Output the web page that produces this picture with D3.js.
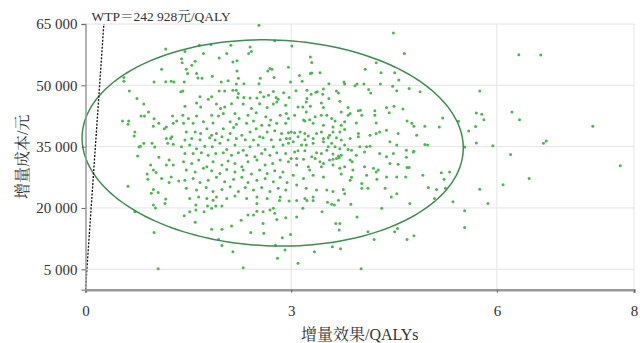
<!DOCTYPE html>
<html>
<head>
<meta charset="utf-8">
<script src="https://cdn.jsdelivr.net/npm/d3@7"></script>
<style>
  body { margin: 0; background: #fff; }
  text { font-family: "Liberation Serif", "Noto Serif CJK SC", "Noto Sans CJK SC", serif; fill: #333; }
</style>
</head>
<body>
<svg id="chart" width="640" height="343"></svg>
<script>
// axis ticks and labels
const xTicks = [0, 3, 6, 8];
const yTicks = [5000, 20000, 35000, 50000, 65000];
const xTitle = '增量效果/QALYs';
const yTitle = '增量成本/元';

// willingness to pay threshold (元/QALY)
const wtp = 242928;
const wtpLabel = 'WTP＝242 928元/QALY';

// 95% ellipse: centre [QALY, 千元], semi axes, tilt of the cost axis (千元)
const ellipseCentre = [2.73, 35.9];
const ellipseRadii = [2.78, 25.2];
const ellipseTilt = -1.2;

// simulated ICERs: [增量效果 QALYs, 增量成本 千元]
const points = [
  [1.17,58.9],[1.45,58.3],[1.66,59.8],[1.83,60.0],[2.12,59.8],[2.40,59.4],[2.38,57.8],[2.42,58.3],[2.53,64.7],[1.72,57.8],
  [2.06,57.8],[1.95,56.7],[1.40,56.5],[1.41,55.5],[1.60,55.9],[1.55,54.9],[2.15,55.7],[2.21,56.0],[1.47,53.9],[1.49,52.9],
  [1.11,53.9],[1.62,52.9],[1.64,51.8],[1.70,51.7],[1.85,52.2],[2.21,53.5],[2.66,53.5],[2.69,54.1],[2.55,51.7],[2.23,51.7],
  [0.56,51.9],[0.56,51.0],[1.00,50.8],[1.17,50.9],[1.25,51.0],[1.29,50.8],[1.44,50.8],[1.98,50.8],[2.08,51.1],[2.20,50.3],
  [2.31,50.4],[2.53,50.4],[0.64,48.6],[0.75,46.8],[1.39,48.4],[1.42,48.6],[1.67,47.2],[1.84,47.2],[1.79,46.6],[1.95,48.6],
  [2.03,48.6],[2.15,48.8],[2.20,48.8],[2.23,48.0],[2.22,47.0],[2.31,47.0],[2.40,46.9],[2.50,46.9],[2.60,47.2],[2.67,47.6],
  [2.55,48.3],[0.85,45.4],[0.92,43.5],[0.81,42.5],[0.86,42.5],[0.54,41.3],[0.63,41.3],[0.62,40.5],[0.72,38.6],[0.71,37.6],
  [0.80,35.1],[0.78,34.9],[0.85,35.8],[0.97,35.8],[1.01,34.9],[0.99,40.0],[1.07,40.7],[1.00,41.8],[1.15,39.4],[1.18,39.8],
  [1.28,40.7],[1.27,42.5],[1.33,41.3],[1.26,37.4],[1.24,37.0],[1.18,37.0],[1.20,35.8],[1.28,35.6],
  [2.72,53.9],[2.75,51.9],[2.76,60.9],[2.74,48.5],[2.78,47.0],[2.81,46.6],
  [4.49,62.8],[4.65,57.8],[4.08,53.9],[4.31,53.1],[4.51,53.1],[4.24,55.5],[4.57,51.3],[4.30,50.3],[4.48,49.8],[4.54,48.7],
  [4.72,49.2],[4.88,48.4],[4.13,49.0],[4.16,48.1],[4.06,50.3],[3.93,49.9],[3.96,50.3],[3.77,50.8],[3.78,50.3],[3.55,50.4],
  [3.42,53.1],[3.30,53.0],[3.28,52.9],[3.30,55.6],[3.28,56.9],[3.01,59.6],[2.96,54.4],[3.12,52.4],[3.16,51.0],[2.99,50.8],
  [4.63,44.2],[5.21,42.0],[4.69,41.3],[4.76,40.7],[4.79,40.0],[4.95,40.0],[5.16,39.8],[4.83,37.8],[4.95,35.5],[4.99,35.4],
  [4.68,34.1],[4.79,33.9],[3.69,48.1],[3.66,48.6],[3.55,46.8],[3.46,47.8],[3.38,48.4],[3.47,49.1],[3.36,48.3],[3.23,48.8],
  [3.29,47.8],[3.23,46.8],[3.07,48.7],[2.97,47.0],[2.89,48.2],
  [6.32,57.5],[6.64,57.4],[5.75,48.6],[6.22,43.5],[5.70,43.2],[5.78,42.9],[5.81,41.6],[6.33,41.6],[5.69,39.9],[5.59,38.8],
  [7.40,40.0],[5.44,41.2],[5.70,35.9],[5.94,35.2],[6.72,36.4],[6.68,35.8],[6.20,33.1],[5.53,34.9],[7.80,30.3],[6.47,27.2],
  [6.09,25.7],[5.75,24.6],[5.36,21.5],[5.87,21.1],[5.53,19.3],[5.53,15.2],
  [0.76,32.7],[0.62,25.3],[0.90,28.3],[0.91,27.0],[0.95,30.5],[0.99,29.3],[1.03,28.7],[0.99,24.5],[0.96,23.6],[1.06,23.8],
  [0.99,20.7],[1.02,20.0],[1.16,21.1],[1.17,22.2],[1.22,26.2],[1.11,27.2],[1.25,27.6],[1.07,32.4],[1.22,31.7],[1.18,30.5],
  [1.28,30.5],[1.36,26.6],[0.72,19.1],[1.86,21.9],[1.78,20.5],[1.73,19.1],[1.84,19.9],[1.90,20.5],[1.99,20.5],[1.61,20.7],
  [1.61,19.5],[1.52,19.1],[1.44,18.1],[1.60,16.5],[1.84,14.8],[1.99,14.8],[2.13,15.6],[2.27,17.0],[2.37,18.3],[2.45,18.3],
  [2.41,14.0],[2.59,16.2],[2.60,13.8],[2.50,19.2],[2.59,19.1],[2.69,19.5],[2.50,21.1],[1.00,14.0],[1.94,12.3],[1.99,10.8],
  [2.15,9.3],[1.06,5.1],[2.30,5.4],
  [2.80,7.7],[2.91,9.7],[2.87,12.7],[2.99,13.5],[2.77,10.9],[3.10,6.5],[3.34,9.3],[3.60,10.5],[3.72,10.0],[4.02,5.1],
  [3.70,14.6],[3.65,16.2],[3.71,16.2],[3.96,17.8],[4.12,14.2],[4.21,12.3],[4.51,14.2],[4.55,15.0],[4.69,12.3],[4.79,13.2],
  [4.32,19.9],[4.73,21.1],[5.09,22.3],[4.92,28.0],[5.00,25.0],[5.12,24.5],[5.19,28.6],[5.23,27.0],[5.31,28.8],[5.25,24.8],
  [4.69,29.9],[4.72,29.9],[4.67,27.6],[4.68,32.4],[4.78,33.7],[3.87,20.9],[3.69,21.9],[3.63,20.7],[3.59,20.9],[3.53,21.4],
  [3.45,19.1],[3.32,21.8],[3.23,21.8],[3.17,19.9],[3.08,21.8],[3.08,17.8],[2.97,21.7],[2.92,17.6],[2.76,18.7],[2.79,17.2],
  [2.74,19.9],[2.83,21.8],
  [1.45,44.9],[1.62,45.7],[1.68,44.7],[1.91,45.4],[1.97,44.3],[2.03,44.7],[2.13,45.5],[2.30,45.4],[2.42,44.3],[2.54,45.5],
  [2.65,44.6],[2.74,45.4],[2.79,45.9],[2.92,45.1],[1.42,42.7],[1.50,41.9],[1.62,42.5],[1.84,42.7],[1.94,42.5],[2.01,43.1],
  [2.18,43.1],[2.24,41.9],[2.37,42.7],[2.49,43.3],[2.63,42.3],[2.70,41.5],[2.84,42.7],[2.93,43.1],[2.96,41.9],[1.43,40.7],
  [1.57,40.7],[1.72,41.1],[1.86,40.8],[2.11,41.1],[2.20,40.5],[2.35,40.7],[2.45,41.3],[2.57,40.2],[2.68,40.2],[2.79,40.7],
  [2.92,40.7],[1.47,38.6],[1.60,38.6],[1.68,38.2],[1.77,39.4],[1.84,37.8],[1.91,38.2],[2.01,39.4],[2.11,38.2],[2.16,39.7],
  [2.28,37.8],[2.40,38.6],[2.49,39.4],[2.54,37.4],[2.65,38.6],[2.76,38.9],[2.86,38.2],[2.96,38.4],[1.45,36.6],[1.55,37.0],
  [1.67,36.7],[1.81,37.2],[1.89,36.6],[1.99,37.4],[2.08,36.6],[2.20,37.0],[2.33,36.7],[2.45,36.6],[2.59,37.2],[2.71,36.7],
  [2.84,36.7],[2.93,37.0],[1.40,35.0],[1.52,35.4],[1.62,34.5],[1.74,35.1],[1.85,35.0],[1.96,35.8],[2.06,34.3],[2.18,35.4],
  [2.30,34.1],[2.40,35.0],[2.52,35.4],[2.62,34.3],[2.74,35.0],[2.88,35.4],[2.96,35.8],[1.45,33.3],[1.57,33.3],[1.69,33.5],
  [1.79,32.9],[1.90,33.3],[2.01,33.5],[2.13,32.9],[2.23,33.5],[2.35,32.9],[2.47,32.5],[2.57,33.3],[2.69,32.9],[2.79,33.5],
  [2.92,33.3],[1.43,31.3],[1.55,30.9],[1.65,31.7],[1.77,30.1],[1.86,31.3],[1.99,30.5],[2.08,31.5],[2.18,30.9],[2.28,30.1],
  [2.37,31.3],[2.50,31.7],[2.62,30.5],[2.73,30.9],[2.84,31.7],[2.96,31.3],[1.47,29.3],[1.60,28.8],[1.72,29.7],[1.84,29.1],
  [1.96,28.4],[2.06,29.4],[2.18,28.8],[2.30,29.3],[2.42,28.3],[2.54,29.3],[2.65,28.4],[2.76,29.1],[2.88,28.8],[1.45,26.8],
  [1.57,27.2],[1.67,26.2],[1.79,26.8],[1.91,27.5],[2.03,26.4],[2.16,27.0],[2.28,27.5],[2.37,26.2],[2.50,26.8],[2.62,27.2],
  [2.74,26.4],[2.84,27.5],[2.94,26.2],[1.47,24.8],[1.62,24.4],[1.76,25.0],[1.86,24.0],[1.99,24.5],[2.11,25.2],[2.23,24.0],
  [2.33,25.0],[2.45,24.4],[2.57,25.0],[2.69,24.0],[2.81,24.8],[2.92,24.4],[1.52,22.3],[1.65,22.7],[1.77,22.3],[1.91,22.7],
  [2.06,22.3],[2.18,22.9],[2.35,22.3],[2.50,22.7],[2.65,22.3],[2.84,22.7],
  [3.10,44.7],[3.17,44.7],[3.22,45.9],[3.28,44.9],[3.44,45.7],[3.47,44.6],[3.71,46.1],[3.83,44.6],[3.98,43.8],[4.01,43.9],
  [4.22,43.8],[4.39,44.6],[4.43,43.3],[4.50,44.9],[3.05,42.7],[3.22,43.5],[3.27,41.6],[3.35,42.3],[3.44,42.7],[3.52,42.7],
  [3.59,41.9],[3.64,41.3],[3.73,43.5],[3.83,42.7],[3.86,43.1],[4.03,42.7],[4.22,42.7],[3.18,41.5],[3.20,41.3],[3.32,40.7],
  [3.47,40.2],[3.61,39.8],[3.73,40.2],[3.78,41.1],[3.95,40.8],[4.24,40.8],[3.00,38.6],[3.05,38.4],[3.13,38.6],[3.20,38.2],
  [3.25,37.6],[3.37,38.2],[3.44,38.6],[3.56,37.8],[3.61,38.6],[3.71,38.6],[3.78,39.2],[3.98,38.2],[4.15,37.8],[4.29,38.6],
  [4.39,39.0],[4.56,38.2],[2.98,37.0],[3.10,37.4],[3.20,36.7],[3.32,37.0],[3.47,37.0],[3.54,37.2],[3.66,37.2],[3.73,36.6],
  [3.86,37.0],[3.98,37.4],[4.24,38.2],[3.03,36.2],[3.15,35.4],[3.22,35.4],[3.32,35.8],[3.47,36.2],[3.59,35.8],[3.64,35.0],
  [3.54,35.0],[3.71,34.5],[3.78,35.4],[3.83,34.3],[3.88,34.1],[4.00,35.0],[4.10,35.0],[4.15,35.1],[4.44,36.2],[4.54,35.4],
  [3.05,33.7],[3.10,34.0],[3.20,34.0],[3.37,33.5],[3.44,33.3],[3.52,34.1],[3.61,33.2],[3.69,32.7],[3.73,32.9],[3.95,32.9],
  [4.07,33.7],[4.29,33.3],[4.39,32.5],[4.49,33.3],[3.00,32.1],[3.08,32.1],[3.18,31.9],[3.30,32.5],[3.35,32.1],[3.42,31.3],
  [3.47,30.9],[3.56,31.7],[3.61,31.9],[3.66,32.1],[3.70,32.3],[3.86,31.7],[3.89,31.3],[3.08,30.5],[3.25,30.1],[3.27,29.3],
  [3.44,30.1],[3.61,30.5],[3.71,29.7],[3.78,30.1],[3.90,29.3],[4.07,30.1],[4.20,29.7],[4.27,29.3],[4.44,30.9],[4.56,30.7],
  [3.03,28.0],[3.18,27.2],[3.32,28.0],[3.47,27.6],[3.73,28.3],[3.86,26.8],[3.88,27.5],[4.03,26.0],[4.10,28.0],[4.24,28.8],
  [4.25,27.0],[4.39,27.6],[4.54,27.6],[3.08,25.6],[3.22,24.8],[3.37,24.4],[3.52,24.4],[3.61,24.0],[3.76,24.5],[3.78,23.5],
  [4.03,24.8],[4.12,24.8],[4.37,24.8],[4.54,23.5],[3.20,22.3],[3.32,22.7],[4.46,22.7]
];

const margin = { top: 24, right: 6, bottom: 53.3, left: 85.5 },
  width = 640 - margin.left - margin.right,
  height = 343 - margin.top - margin.bottom;

const fmt = d3.formatLocale({ decimal: '.', thousands: ' ', grouping: [3], currency: ['', ''] }).format(',');

const svg = d3.select('#chart')
  .append('g')
  .attr('transform', 'translate(' + margin.left + ',' + margin.top + ')');

const x = d3.scaleLinear().domain([0, 8]).range([0, width]);
const y = d3.scaleLinear().domain([0, 65000]).range([height, 0]);

// grid
svg.append('g').selectAll('line').data(yTicks).join('line')
  .attr('x1', 0).attr('x2', width)
  .attr('y1', d => y(d)).attr('y2', d => y(d))
  .attr('stroke', '#e4e4e4').attr('stroke-width', 1);
svg.append('g').selectAll('line').data(xTicks.filter(d => d > 0)).join('line')
  .attr('x1', d => x(d)).attr('x2', d => x(d))
  .attr('y1', 0).attr('y2', height)
  .attr('stroke', '#e4e4e4').attr('stroke-width', 1);

// points
svg.append('g').selectAll('circle').data(points).join('circle')
  .attr('cx', d => x(d[0]))
  .attr('cy', d => y(d[1] * 1000))
  .attr('r', 1.5)
  .attr('fill', '#4cb84f');

// ellipse
const ellipse = d3.range(0, 2 * Math.PI, Math.PI / 90).map(t => [
  ellipseCentre[0] + ellipseRadii[0] * Math.cos(t),
  ellipseCentre[1] + ellipseRadii[1] * Math.sin(t) + ellipseTilt * Math.cos(t)
]);
svg.append('path')
  .datum(ellipse)
  .attr('fill', 'none')
  .attr('stroke', '#3c8f4e')
  .attr('stroke-width', 1.5)
  .attr('d', d3.line().x(d => x(d[0])).y(d => y(d[1] * 1000)).curve(d3.curveLinearClosed));

// WTP line
const wtpEnd = 65000 / wtp;
svg.append('line')
  .attr('x1', x(0)).attr('y1', y(0))
  .attr('x2', x(wtpEnd)).attr('y2', y(65000))
  .attr('stroke', '#111').attr('stroke-width', 1.3)
  .attr('stroke-dasharray', '2,1.5');
svg.append('text')
  .attr('x', x(0) + 6).attr('y', -3.5)
  .attr('font-size', 13.5)
  .text(wtpLabel);

// axes
const xAxis = svg.append('g')
  .attr('transform', 'translate(0,' + height + ')')
  .call(d3.axisBottom(x).tickValues(xTicks).tickSize(3).tickPadding(13).tickFormat(d3.format('d')));
const yAxis = svg.append('g')
  .call(d3.axisLeft(y).tickValues(yTicks).tickSize(4).tickPadding(4).tickFormat(fmt));

xAxis.select('.domain').attr('stroke', '#999').attr('stroke-width', 2.5);
yAxis.select('.domain').attr('stroke', '#999').attr('stroke-width', 1.5);
svg.selectAll('.tick line').attr('stroke', '#666');
svg.selectAll('.tick text').attr('font-size', 15).attr('font-family', null).attr('fill', '#333');

// titles
svg.append('text')
  .attr('x', width / 2).attr('y', height + 50)
  .attr('text-anchor', 'middle')
  .attr('font-size', 16)
  .text(xTitle);
svg.append('text')
  .attr('transform', 'translate(' + (28 - margin.left) + ',' + (height / 2) + ') rotate(-90)')
  .attr('text-anchor', 'middle')
  .attr('font-size', 16)
  .text(yTitle);
</script>
</body>
</html>
